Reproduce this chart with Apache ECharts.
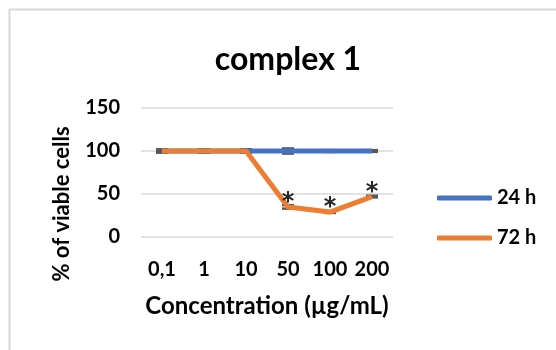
<!DOCTYPE html>
<html>
<head>
<meta charset="utf-8">
<script src="https://cdn.jsdelivr.net/npm/echarts@6/dist/echarts.min.js"></script>
<style>
html, body { margin: 0; padding: 0; background: #fff; }
#chart { width: 556px; height: 350px; }
</style>
</head>
<body>
<div id="chart"></div>
<script>
const categories = ["0,1", "1", "10", "50", "100", "200"]
const h24 = [100, 100, 100, 100, 100, 100]
const h24Err = [2, 2, 2, 3, 1, 1]
const h72 = [100, 100, 100, 35, 29, 47]
const h72Err = [1, 1, 1, 2, 1, 1]
const significant = [false, false, false, true, true, true]
const yTicks = { min: 0, max: 150, interval: 50 }

const font = "Lato, 'Open Sans', sans-serif"
let chart = echarts.init(document.getElementById("chart"))

const errorSeries = (name, values, errs) => ({
	name: name + " err",
	type: "custom",
	z: 1,
	silent: true,
	data: values.map((v, i) => [i, v - errs[i], v + errs[i]]),
	renderItem: function (params, api) {
		let lo = api.coord([api.value(0), api.value(1)])
		let hi = api.coord([api.value(0), api.value(2)])
		let w = 6
		let st = { stroke: "#595959", lineWidth: 2.5 }
		return {
			type: "group",
			children: [
				{ type: "line", shape: { x1: lo[0], y1: lo[1], x2: hi[0], y2: hi[1] }, style: st },
				{ type: "line", shape: { x1: lo[0] - w, y1: lo[1], x2: lo[0] + w, y2: lo[1] }, style: st },
				{ type: "line", shape: { x1: hi[0] - w, y1: hi[1], x2: hi[0] + w, y2: hi[1] }, style: st }
			]
		}
	}
})

let option = {
	animation: false,
	textStyle: { fontFamily: font },
	title: {
		text: "complex 1",
		left: 283,
		top: 39,
		textAlign: "center",
		textStyle: { fontSize: 32, fontWeight: "bold", color: "#000", fontFamily: font }
	},
	graphic: [
		{
			type: "rect",
			shape: { x: 9.5, y: 9.5, width: 600, height: 400 },
			style: { fill: "none", stroke: "#d9d9d9", lineWidth: 2 },
			silent: true
		},
		{
			type: "text",
			x: 62,
			y: 204,
			rotation: Math.PI / 2,
			style: {
				text: "% of viable cells",
				fontSize: 22,
				fontWeight: "bold",
				fontFamily: font,
				fill: "#000",
				align: "center",
				verticalAlign: "middle"
			}
		}
	],
	legend: {
		orient: "vertical",
		left: 432,
		top: 183,
		itemWidth: 55,
		itemHeight: 5,
		itemGap: 20,
		icon: "roundRect",
		data: ["24 h", "72 h"],
		textStyle: { fontSize: 20, fontWeight: "bold", color: "#000", fontFamily: font }
	},
	grid: { left: 141, right: 163, top: 108, bottom: 113 },
	xAxis: {
		type: "category",
		data: categories,
		axisLine: { show: false },
		axisTick: { show: false },
		axisLabel: { fontSize: 20, fontWeight: "bold", color: "#000", margin: 23, interval: 0 },
		name: "Concentration (µg/mL)",
		nameLocation: "middle",
		nameGap: 57,
		nameTextStyle: { fontSize: 24, fontWeight: "bold", color: "#000" }
	},
	yAxis: {
		type: "value",
		min: yTicks.min,
		max: yTicks.max,
		interval: yTicks.interval,
		axisLine: { show: false },
		axisTick: { show: false },
		axisLabel: { fontSize: 20, fontWeight: "bold", color: "#000", margin: 21 },
		splitLine: { lineStyle: { color: "#d9d9d9", width: 1.5 } }
	},
	series: [
		errorSeries("24 h", h24, h24Err),
		errorSeries("72 h", h72, h72Err),
		{
			name: "24 h",
			type: "line",
			z: 2,
			data: h24,
			symbol: "none",
			itemStyle: { color: "#4472C4" },
			lineStyle: { color: "#4472C4", width: 5 }
		},
		{
			name: "72 h",
			type: "line",
			z: 3,
			data: h72.map((v, i) => ({
				value: v,
				label: {
					show: significant[i],
					formatter: "*",
					position: "top",
					distance: -8,
					fontSize: 24,
					fontWeight: "bold",
					fontFamily: "'DejaVu Sans', sans-serif",
					color: "#262626"
				}
			})),
			symbol: "circle",
			symbolSize: 0,
			showSymbol: true,
			itemStyle: { color: "#ED7D31" },
			lineStyle: { color: "#ED7D31", width: 5 }
		}
	]
}
chart.setOption(option)
</script>
</body>
</html>
